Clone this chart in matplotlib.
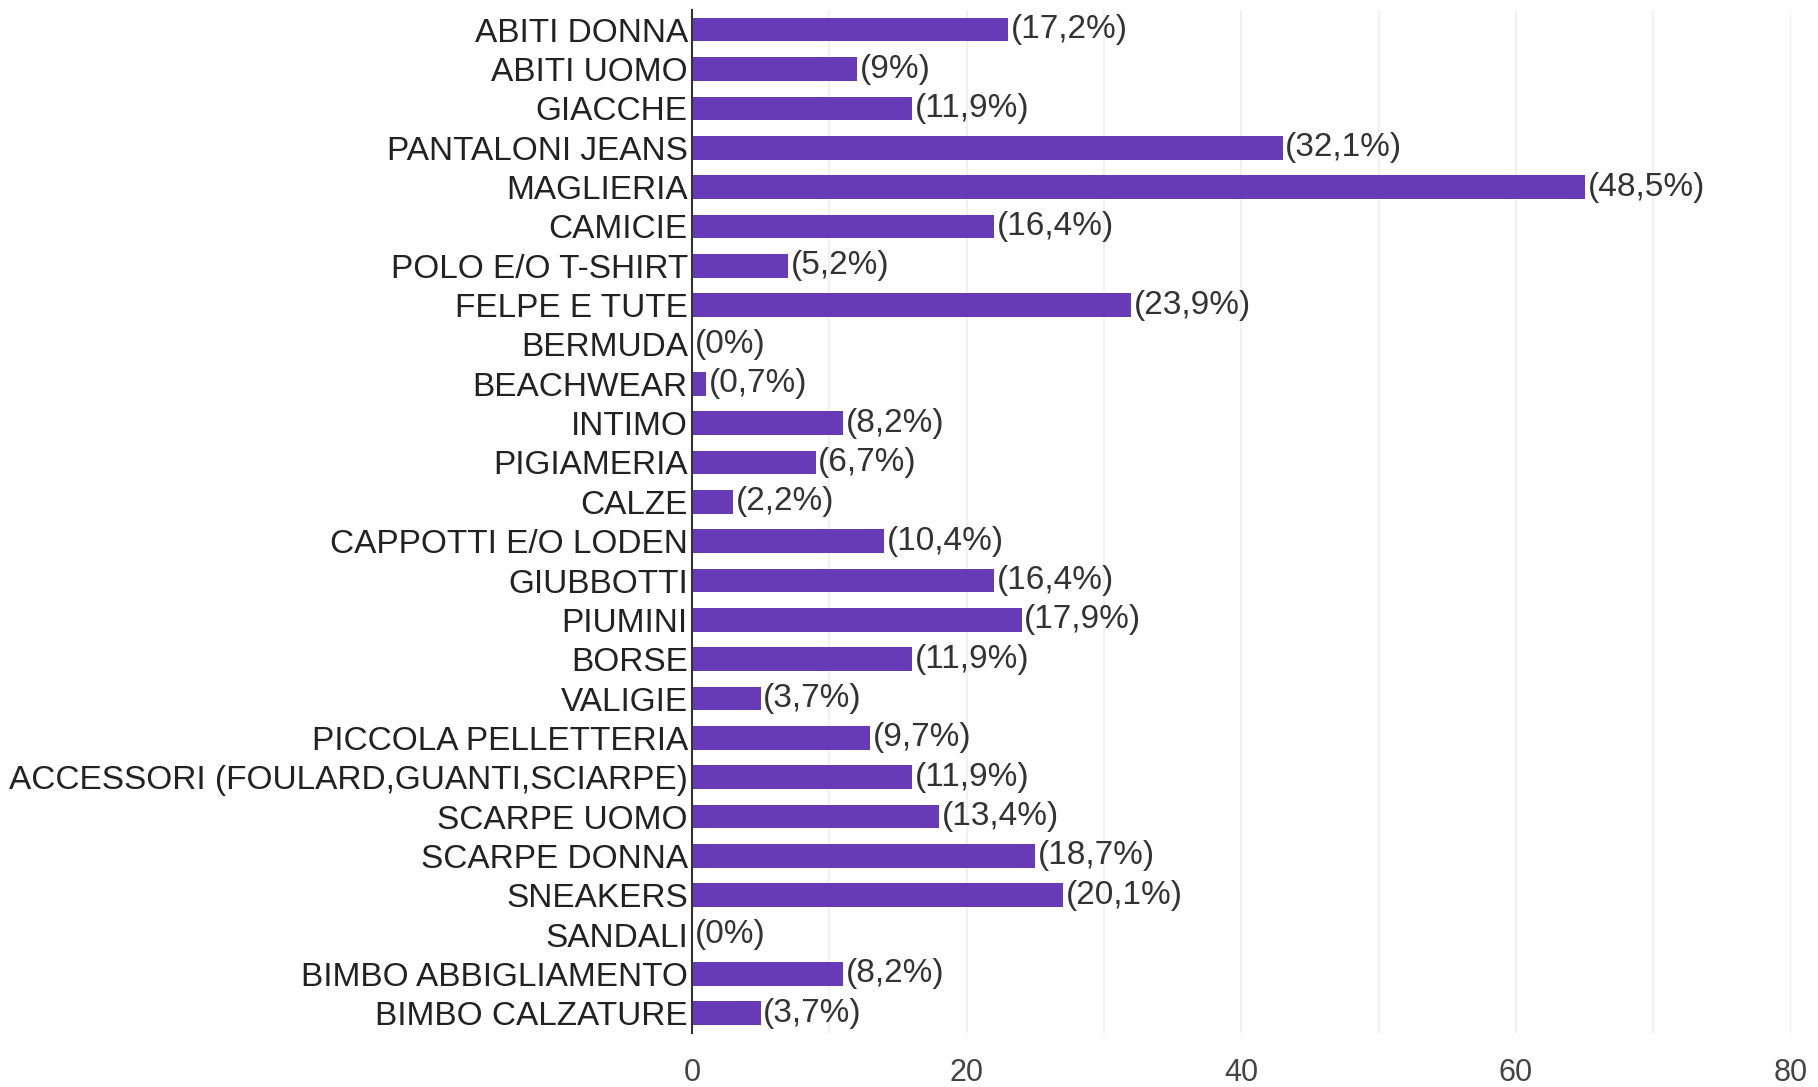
import numpy as np
import matplotlib.pyplot as plt

categories = ["ABITI DONNA", "ABITI UOMO", "GIACCHE", "PANTALONI JEANS", "MAGLIERIA",
              "CAMICIE", "POLO E/O T-SHIRT", "FELPE E TUTE", "BERMUDA", "BEACHWEAR",
              "INTIMO", "PIGIAMERIA", "CALZE", "CAPPOTTI E/O LODEN", "GIUBBOTTI",
              "PIUMINI", "BORSE", "VALIGIE", "PICCOLA PELLETTERIA",
              "ACCESSORI (FOULARD,GUANTI,SCIARPE)", "SCARPE UOMO", "SCARPE DONNA",
              "SNEAKERS", "SANDALI", "BIMBO ABBIGLIAMENTO", "BIMBO CALZATURE"]
counts = [23, 12, 16, 43, 65, 22, 7, 32, 0, 1, 11, 9, 3, 14, 22, 24, 16, 5, 13,
          16, 18, 25, 27, 0, 11, 5]
total = 134
xticks = [0, 20, 40, 60, 80]

plt.rcParams['font.family'] = ['Liberation Sans', 'DejaVu Sans']

fig = plt.figure(figsize=(18.18, 10.87), dpi=100)
ax = fig.add_axes([0.3806, 0.0497, 0.6044, 0.9411])

y = np.arange(len(categories))
ax.barh(y, counts, height=0.6, color='#673ab7', zorder=3)

def fmt(c):
    p = round(100.0 * c / total, 1)
    s = ('%.1f' % p).rstrip('0').rstrip('.')
    return '(' + s.replace('.', ',') + '%)'

for yi, c in zip(y, counts):
    ax.text(c + 0.2, yi, fmt(c), va='center', ha='left', fontsize=24, color='#333333')

ax.set_ylim(len(categories) - 0.5, -0.5)
ax.set_xlim(0, 80)
ax.set_yticks(y)
ax.set_yticklabels(categories, fontsize=24, color='#222222')
ax.set_xticks(xticks)
ax.set_xticks(np.arange(10, 80, 20), minor=True)
ax.set_xticklabels([str(t) for t in xticks], fontsize=22, color='#444444')
ax.tick_params(axis='y', length=0, pad=3)
ax.tick_params(axis='x', length=0, pad=18)
ax.tick_params(axis='x', which='minor', length=0)
ax.grid(axis='x', which='both', color='#eeeeee', linewidth=1.2, zorder=0)
for s in ['top', 'right', 'bottom']:
    ax.spines[s].set_visible(False)
ax.spines['left'].set_color('#333333')
ax.spines['left'].set_linewidth(1.5)
ax.spines['left'].set_zorder(4)

fig.savefig('out.png', dpi=100)
